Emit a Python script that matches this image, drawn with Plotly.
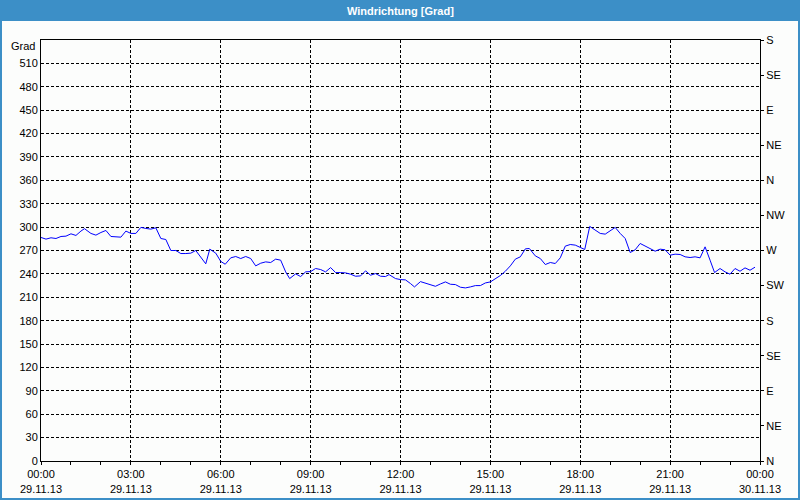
import plotly.graph_objects as go

# ---- data ----
times = ["00:00","00:10","00:20","00:30","00:40","00:50","01:00","01:10","01:20","01:27",
         "01:40","01:50","02:00","02:10","02:20","02:30","02:40","02:50","03:00","03:10",
         "03:20","03:30","03:40","03:50","04:00","04:10","04:20","04:30","04:40","04:50",
         "05:00","05:10","05:20","05:30","05:38","05:50","06:00","06:09","06:20","06:30",
         "06:40","06:50","07:00","07:10","07:20","07:30","07:40","07:50","08:00","08:10",
         "08:18","08:30","08:40","08:50","09:00","09:10","09:20","09:30","09:40","09:50",
         "10:00","10:10","10:20","10:30","10:40","10:50","11:00","11:10","11:20","11:30",
         "11:37","11:50","12:00","12:10","12:20","12:28","12:40","12:50","13:00","13:10",
         "13:20","13:30","13:40","13:50","14:00","14:10","14:20","14:30","14:40","14:50",
         "15:00","15:10","15:20","15:30","15:40","15:50","16:00","16:10","16:18","16:30",
         "16:40","16:50","17:00","17:10","17:20","17:30","17:40","17:50","18:00","18:09",
         "18:19","18:30","18:40","18:50","19:00","19:10","19:20","19:30","19:40","19:50",
         "20:00","20:10","20:20","20:30","20:40","20:50","21:00","21:10","21:20","21:30",
         "21:40","21:50","22:00","22:10","22:20","22:29","22:40","22:50","23:00","23:10",
         "23:20","23:30","23:40","23:50"]
direction = [286.7,284.6,286.3,285.4,288.0,288.4,291.4,289.3,294.9,298.0,
             291.9,289.7,293.1,295.7,288.0,287.6,287.1,294.9,291.9,291.9,
             299.6,298.3,297.4,299.1,285.4,284.1,270.0,270.0,266.1,266.1,
             266.6,270.0,261.9,252.9,271.7,266.6,256.0,252.4,260.6,262.3,
             259.7,262.3,259.7,250.3,253.7,255.4,254.6,258.9,257.6,242.6,
             234.0,240.0,236.6,242.6,243.0,246.9,245.6,242.6,248.1,241.7,
             241.7,241.3,239.6,237.0,237.4,243.9,238.3,240.4,237.0,236.6,
             239.1,234.0,232.7,232.3,227.6,223.3,230.1,228.4,226.3,224.1,
             227.1,229.7,226.7,226.3,222.9,222.0,223.3,225.0,225.0,228.4,
             229.7,234.0,237.9,243.4,250.3,258.9,261.9,272.1,272.6,263.1,
             259.7,252.0,254.6,253.3,260.6,275.6,277.7,276.9,274.0,271.3,
             300.9,295.7,291.9,291.0,294.9,299.6,291.9,285.4,267.4,270.9,
             279.0,276.0,272.6,269.1,271.7,270.9,264.0,265.3,264.9,261.9,
             261.0,261.9,260.6,274.7,257.6,241.7,246.9,242.6,239.6,246.9,
             243.4,247.7,244.7,248.6]

date = "2013-11-29"
x_vals = [f"{date} {t}" for t in times]

x_tickvals = ["2013-11-29 00:00","2013-11-29 03:00","2013-11-29 06:00","2013-11-29 09:00",
              "2013-11-29 12:00","2013-11-29 15:00","2013-11-29 18:00","2013-11-29 21:00",
              "2013-11-30 00:00"]
x_ticktext = ["00:00<br>29.11.13","03:00<br>29.11.13","06:00<br>29.11.13","09:00<br>29.11.13",
              "12:00<br>29.11.13","15:00<br>29.11.13","18:00<br>29.11.13","21:00<br>29.11.13",
              "00:00<br>30.11.13"]
y_tickvals = list(range(0, 511, 30))
compass_vals = list(range(0, 541, 45))
compass_text = ["N","NE","E","SE","S","SW","W","NW","N","NE","E","SE","S"]

FONT = "Tahoma, Liberation Sans, DejaVu Sans, sans-serif"
BG = "#FCFDFC"
BLUE = "#3C8FC7"

fig = go.Figure()
fig.add_trace(go.Scatter(x=x_vals, y=direction, mode="lines",
                         line=dict(color="#0000FF", width=1), showlegend=False))
fig.add_trace(go.Scatter(x=[x_vals[0]], y=[0], yaxis="y2", mode="markers",
                         marker=dict(opacity=0), showlegend=False, hoverinfo="skip"))

fig.update_layout(
    width=800, height=500,
    margin=dict(l=41, r=40, t=40, b=39, autoexpand=False),
    paper_bgcolor=BG, plot_bgcolor=BG,
    font=dict(family=FONT, size=11, color="#000000"),
    xaxis=dict(type="date", range=["2013-11-29 00:00", "2013-11-30 00:00"],
               tickmode="array", tickvals=x_tickvals, ticktext=x_ticktext,
               showgrid=True, gridcolor="#000000", gridwidth=1, griddash="3px,2px",
               showline=True, linecolor="#000000", linewidth=1, mirror=True,
               ticks="outside", ticklen=3, tickcolor="#000000",
               minor=dict(dtick=3600000, ticks="outside", ticklen=3,
                          tickcolor="#000000", showgrid=False),
               zeroline=False, fixedrange=True, automargin=False),
    yaxis=dict(range=[0, 540], tickmode="array", tickvals=y_tickvals,
               showgrid=True, gridcolor="#000000", gridwidth=1, griddash="3px,2px",
               showline=True, linecolor="#000000", linewidth=1,
               ticks="", zeroline=False, fixedrange=True, automargin=False),
    yaxis2=dict(range=[0, 540], overlaying="y", side="right",
                tickmode="array", tickvals=compass_vals, ticktext=compass_text,
                showgrid=False, showline=True, linecolor="#000000", linewidth=1,
                ticks="outside", ticklen=3, tickcolor="#000000",
                zeroline=False, fixedrange=True, automargin=False),
    shapes=[
        dict(type="rect", xref="paper", yref="paper",
             x0=-41/719, x1=759/719, y0=(461-21)/421, y1=461/421,
             fillcolor=BLUE, line=dict(width=0), layer="below"),
        dict(type="rect", xref="paper", yref="paper",
             x0=-40/719, x1=758/719, y0=-38/421, y1=460/421,
             fillcolor="rgba(0,0,0,0)", line=dict(color=BLUE, width=2)),
    ],
    annotations=[
        dict(text="<b>Windrichtung [Grad]</b>", xref="paper", yref="paper",
             x=(400-41)/719, y=(461-10.5)/421, showarrow=False,
             xanchor="center", yanchor="middle",
             font=dict(family=FONT, size=11, color="#FFFFFF")),
        dict(text="Grad", xref="paper", yref="paper",
             x=-4/719, y=(461-46)/421, showarrow=False,
             xanchor="right", yanchor="middle",
             font=dict(family=FONT, size=11, color="#000000")),
    ],
)

fig.write_html("out.html")
